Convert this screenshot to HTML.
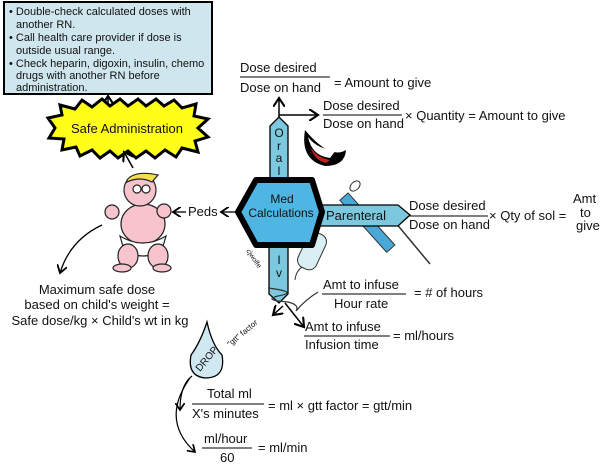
<!DOCTYPE html>
<html><head><meta charset="utf-8"><style>
html,body{margin:0;padding:0;background:#fff;width:600px;height:465px;overflow:hidden}
text{font-family:"Liberation Sans",sans-serif;fill:#111}
</style></head><body>
<svg width="600" height="465" viewBox="0 0 600 465" xmlns="http://www.w3.org/2000/svg">
<defs><marker id="a" markerWidth="8" markerHeight="8" refX="6" refY="4" orient="auto"><path d="M0,0 L6,4 L0,8" fill="none" stroke="#000" stroke-width="1.4"/></marker></defs>
<!-- info box -->
<rect x="4" y="2" width="208" height="92" fill="#cfe6ee" stroke="#000" stroke-width="2"/>
<g font-size="11">
<text x="9" y="15">• Double-check calculated doses with</text>
<text x="16" y="28">another RN.</text>
<text x="9" y="41">• Call health care provider if dose is</text>
<text x="16" y="54">outside usual range.</text>
<text x="9" y="67">• Check heparin, digoxin, insulin, chemo</text>
<text x="16" y="79">drugs with another RN before</text>
<text x="16" y="91">administration.</text>
</g>
<line x1="108" y1="108" x2="108" y2="96" stroke="#000" stroke-width="1.5" marker-end="url(#a)"/>
<!-- starburst -->
<polygon points="55,128 48,118 62,115 60,105 75,109 82,100 92,107 102,99 110,106 120,99 128,106 138,99 146,106 156,99 164,106 174,100 182,108 196,104 194,116 208,119 198,128 208,137 195,141 198,152 182,148 176,157 165,150 155,158 146,151 136,158 128,151 118,158 110,151 100,158 92,150 80,156 76,147 62,150 64,139 49,138" fill="#ffff1a" stroke="#000" stroke-width="3"/>
<text x="127" y="133" font-size="13" text-anchor="middle">Safe Administration</text>
<line x1="133" y1="168" x2="124" y2="152" stroke="#000" stroke-width="1.5" marker-end="url(#a)"/>
<!-- baby -->
<g stroke="#222" stroke-width="1.2">
<ellipse cx="143" cy="224" rx="22" ry="20" fill="#f7c3cc"/>
<path d="M120,236 Q143,250 166,236 L162,250 Q143,262 124,250Z" fill="#fff"/>
<ellipse cx="128" cy="256" rx="10" ry="12" fill="#f7c3cc"/>
<ellipse cx="158" cy="256" rx="10" ry="12" fill="#f7c3cc"/>
<ellipse cx="122" cy="268" rx="9" ry="4" fill="#f7c3cc"/>
<ellipse cx="162" cy="268" rx="9" ry="4" fill="#f7c3cc"/>
<ellipse cx="112" cy="212" rx="7" ry="7" fill="#f7c3cc"/>
<ellipse cx="164" cy="211" rx="7" ry="7" fill="#f7c3cc"/>
<circle cx="140" cy="190" r="16" fill="#f7c3cc"/>
<path d="M127,180 Q135,170 158,175 L152,182 Q140,176 127,182Z" fill="#f5e04a"/>
<circle cx="137" cy="189" r="4" fill="#fff"/><circle cx="146" cy="189" r="4" fill="#fff"/>
</g>
<text x="188" y="216" font-size="13">Peds</text>
<line x1="186" y1="212" x2="173" y2="212" stroke="#000" stroke-width="1.3" marker-end="url(#a)"/>
<line x1="236" y1="212" x2="221" y2="212" stroke="#000" stroke-width="1.3" marker-end="url(#a)"/>
<path d="M102,225 Q70,240 60,273" fill="none" stroke="#000" stroke-width="1.3" marker-end="url(#a)"/>
<g font-size="13" text-anchor="middle">
<text x="97" y="294">Maximum safe dose</text>
<text x="97" y="309">based on child's weight =</text>
<text x="100" y="325">Safe dose/kg × Child's wt in kg</text>
</g>
<!-- Oral arm -->
<line x1="279" y1="120" x2="279" y2="98" stroke="#000" stroke-width="1.5" marker-end="url(#a)"/>
<line x1="279" y1="115" x2="318" y2="115" stroke="#000" stroke-width="1.5" marker-end="url(#a)"/>
<polygon points="270,182 270,126 279,117 288,126 288,182" fill="#7cc8df" stroke="#000" stroke-width="1.3"/>
<g font-size="12" text-anchor="middle"><text x="279" y="137">O</text><text x="279" y="150">r</text><text x="279" y="162">a</text><text x="279" y="175">l</text></g>
<!-- IV arm -->
<polygon points="269,244 288,244 288,294 279,303 269,294" fill="#7cc8df" stroke="#000" stroke-width="1.3"/>
<text x="279" y="264" font-size="12" text-anchor="middle">I</text>
<text x="279" y="277" font-size="12" text-anchor="middle">v</text>
<path d="M268,288 Q300,292 278,296 Q262,300 288,302 Q300,305 296,311 Q305,300 318,292" fill="none" stroke="#333" stroke-width="1.2"/>
<path d="M295,280 Q296,270 304,266" fill="none" stroke="#333"/>
<rect x="302" y="232" width="20" height="38" rx="8" fill="#d8eef2" stroke="#333" transform="rotate(25 312 251)"/>
<line x1="285" y1="303" x2="304" y2="327" stroke="#000" stroke-width="1.5" marker-end="url(#a)"/>
<line x1="283" y1="306" x2="273" y2="315" stroke="#000" stroke-width="1.5" marker-end="url(#a)"/>
<!-- syringe (behind arm) -->
<line x1="395" y1="222" x2="430" y2="264" stroke="#333" stroke-width="1.5"/>
<rect x="362" y="188" width="11" height="70" fill="#4aa8d8" stroke="#333" transform="rotate(-42 367 223)"/>
<ellipse cx="355" cy="186" rx="6" ry="4" fill="#fff" stroke="#333" transform="rotate(-45 355 186)"/>
<!-- Parenteral arm -->
<polygon points="316,205 398,205 410,215 398,226 316,226" fill="#7cc8df" stroke="#000" stroke-width="1.3"/>
<text x="326" y="220" font-size="13">Parenteral</text>
<!-- hexagon -->
<polygon points="238,212 256,180 312,180 322,212 312,245 256,245" fill="#4fb6e3" stroke="#000" stroke-width="6" stroke-linejoin="round"/>
<text x="282" y="203" font-size="12" text-anchor="middle">Med</text>
<text x="281" y="217" font-size="12" text-anchor="middle">Calculations</text>
<text x="246" y="251" font-size="7" transform="rotate(55 246 251)">cjwolfe</text>
<!-- mouth -->
<path d="M305,130 Q300,160 325,166 Q345,166 346,150 Q330,160 305,130Z" fill="#000"/>
<path d="M308,137 Q312,156 330,158 L336,150 Q318,150 308,137Z" fill="#fff"/>
<path d="M311,148 Q318,158 330,160 L326,163 Q314,160 311,148Z" fill="#c02020"/>
<!-- formulas -->
<g font-size="13">
<text x="240" y="72">Dose desired</text>
<line x1="240" y1="77" x2="330" y2="77" stroke="#000"/>
<text x="240" y="92">Dose on hand</text>
<text x="334" y="87">= Amount to give</text>

<text x="323" y="110">Dose desired</text>
<line x1="323" y1="115" x2="402" y2="115" stroke="#000"/>
<text x="323" y="128">Dose on hand</text>
<text x="405" y="120">× Quantity = Amount to give</text>

<text x="409" y="210">Dose desired</text>
<line x1="409" y1="216" x2="488" y2="216" stroke="#000"/>
<text x="409" y="229">Dose on hand</text>
<text x="489" y="220">× Qty of sol =</text>
<text x="573" y="203">Amt</text>
<text x="580" y="217">to</text>
<text x="576" y="230">give</text>

<text x="323" y="289">Amt to infuse</text>
<line x1="322" y1="294" x2="406" y2="294" stroke="#000"/>
<text x="334" y="308">Hour rate</text>
<text x="414" y="297">= # of hours</text>

<text x="305" y="331">Amt to infuse</text>
<line x1="304" y1="336" x2="390" y2="336" stroke="#000"/>
<text x="305" y="349">Infusion time</text>
<text x="393" y="340">= ml/hours</text>

<text x="207" y="398">Total ml</text>
<line x1="192" y1="404" x2="264" y2="404" stroke="#000"/>
<text x="192" y="418">X's minutes</text>
<text x="268" y="410">=  ml × gtt factor = gtt/min</text>

<text x="204" y="443">ml/hour</text>
<line x1="202" y1="448" x2="252" y2="448" stroke="#000"/>
<text x="220" y="462">60</text>
<text x="258" y="452">=  ml/min</text>
</g>
<!-- drop -->
<path d="M207,322 Q212,345 222,355 Q226,378 205,378 Q187,376 191,355 Q200,343 207,322Z" fill="#cfe8f2" stroke="#000" stroke-width="1.3"/>
<text x="200" y="372" font-size="10" transform="rotate(-50 200 372)">DROP</text>
<text x="230" y="347" font-size="8" transform="rotate(-40 230 347)">"gtt" factor</text>
<path d="M192,376 Q180,385 180,410" fill="none" stroke="#000" stroke-width="1.2" marker-end="url(#a)"/>
<path d="M190,378 Q160,420 195,452" fill="none" stroke="#000" stroke-width="1.2" marker-end="url(#a)"/>
</svg>
</body></html>
